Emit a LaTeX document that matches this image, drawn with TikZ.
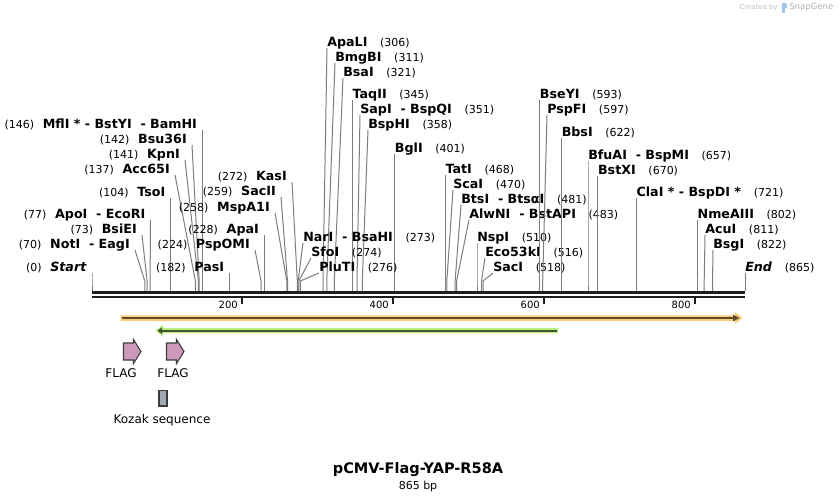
\documentclass[tikz,border=0pt]{standalone}
\usepackage{fontspec}
\setmainfont{DejaVu Sans}
\definecolor{leadc}{RGB}{125,125,125}
\definecolor{orfill}{RGB}{250,202,120}
\definecolor{ordark}{RGB}{95,78,48}
\definecolor{grfill}{RGB}{185,240,125}
\definecolor{grdark}{RGB}{65,85,45}
\definecolor{flagc}{RGB}{205,153,186}
\definecolor{kozc}{RGB}{160,168,180}
\definecolor{outl}{RGB}{60,60,60}
\definecolor{axisc}{RGB}{30,30,30}
\definecolor{sgblue}{RGB}{120,170,215}
\newcommand\numf{\fontsize{8.25}{10}\selectfont\mdseries}
\newcommand\LL[6]{%
  \node[lab,anchor=base east] (#1) at (#2,#3) {{\numf #4}\hspace{6.5pt}#5};
  \coordinate (#1k) at (#6,281);
  \coordinate (#1s) at (#6,291);
  \draw[lead] ([shift={(5,2)}]#1.base east) -- (#1k) -- (#1s);
}
\newcommand\RL[6]{%
  \node[lab,anchor=base west] (#1) at (#2,#3) {#5\hspace{9.5pt}{\numf #4}};
  \coordinate (#1k) at (#6,281);
  \coordinate (#1s) at (#6,291);
  \draw[lead] ([shift={(0,2)}]#1.base west) -- (#1k) -- (#1s);
}
\begin{document}
\begin{tikzpicture}[x=0.75pt,y=-0.75pt,
  lab/.style={font=\fontsize{9.5}{11}\selectfont\bfseries,inner sep=0pt},
  lead/.style={draw=leadc,line width=0.75pt},
  ticklab/.style={font=\fontsize{7.5}{9}\selectfont,inner sep=0pt,anchor=east},
  featlab/.style={font=\fontsize{9}{11}\selectfont,inner sep=0pt}]
\useasboundingbox (0,0) rectangle (838,501);
\fill[white] (0,0) rectangle (838,501);

% watermark
\node[font=\fontsize{5.2}{7}\selectfont,text=gray!50,inner sep=0pt,anchor=east] (cby) at (778,7.5) {Created by};
\fill[sgblue!70] (781.5,2.5) rectangle (784.5,12.5);
\fill[sgblue!70] (784.5,2.5) -- (787,4.5) -- (787,7.5) -- (784.5,9) -- cycle;
\node[font=\fontsize{6.4}{8}\selectfont,text=gray!60,inner sep=0pt,anchor=west] (sg) at (789,7.5) {SnapGene};

% left-side labels (number first)
\LL{mfl}{197.2}{128}{(146)}{MflI * - BstYI\ \ - BamHI}{202.2}
\LL{bsu}{187}{143}{(142)}{Bsu36I}{199.2}
\LL{kpn}{180}{158}{(141)}{KpnI}{198.4}
\LL{acc}{170}{173}{(137)}{Acc65I}{195.4}
\LL{tso}{165.5}{196}{(104)}{TsoI}{170.5}
\LL{apo}{145.5}{218}{(77)}{ApoI\ \ - EcoRI}{150.1}
\LL{bsie}{137}{233}{(73)}{BsiEI}{147.1}
\LL{not}{130}{248}{(70)}{NotI\ \ - EagI}{144.8}
\LL{start}{87}{271}{(0)}{\textit{Start}}{92}
\LL{kas}{287}{180}{(272)}{KasI}{297.3}
\LL{sac2}{276}{195}{(259)}{SacII}{287.5}
\LL{msp}{270}{211}{(258)}{MspA1I}{286.8}
\LL{apai}{259.1}{233}{(228)}{ApaI}{264.1}
\LL{pspo}{250}{248}{(224)}{PspOMI}{261.1}
\LL{pas}{224.4}{271}{(182)}{PasI}{229.4}

% right-side labels (name first)
\RL{apal}{327}{46}{(306)}{ApaLI}{323.0}
\RL{bmg}{335}{61}{(311)}{BmgBI}{326.8}
\RL{bsa}{343}{76}{(321)}{BsaI}{334.3}
\RL{taq}{352.4}{98}{(345)}{TaqII}{352.4}
\RL{sap}{360}{113}{(351)}{SapI\ \ - BspQI}{357.0}
\RL{bsph}{368}{128}{(358)}{BspHI}{362.3}
\RL{bgl}{394.7}{152}{(401)}{BglI}{394.7}
\RL{nar}{303}{241}{(273)}{NarI\ \ - BsaHI}{298.1}
\RL{sfo}{311}{256}{(274)}{SfoI}{298.8}
\RL{plu}{319}{271}{(276)}{PluTI}{300.4}
\RL{tat}{445.3}{173}{(468)}{TatI}{445.3}
\RL{sca}{453}{188}{(470)}{ScaI}{446.8}
\RL{bts}{461}{203}{(481)}{BtsI\ \ - BtsαI}{455.1}
\RL{alw}{469}{218}{(483)}{AlwNI\ \ - BstAPI}{456.6}
\RL{nsp}{477}{241}{(510)}{NspI}{477.0}
\RL{eco}{485}{256}{(516)}{Eco53kI}{481.5}
\RL{saci}{493}{271}{(518)}{SacI}{483.0}
\RL{bsey}{539.7}{98}{(593)}{BseYI}{539.7}
\RL{pspf}{547}{113}{(597)}{PspFI}{542.7}
\RL{bbs}{561.5}{136}{(622)}{BbsI}{561.5}
\RL{bfu}{588}{159}{(657)}{BfuAI\ \ - BspMI}{588.0}
\RL{bstx}{597.8}{174}{(670)}{BstXI}{597.8}
\RL{cla}{636.3}{196}{(721)}{ClaI * - BspDI *}{636.3}
\RL{nme}{697.4}{218}{(802)}{NmeAIII}{697.4}
\RL{acu}{705}{233}{(811)}{AcuI}{704.2}
\RL{bsg}{713}{248}{(822)}{BsgI}{712.5}
\RL{endl}{745}{271}{(865)}{\textit{End}}{745}

% sequence axis
\draw[axisc,line width=2.25pt] (92,292.3) -- (745,292.3);
\draw[axisc,line width=1.9pt] (92,296.8) -- (745,296.8);
\foreach \bp/\xx in {200/241.5,400/392.5,600/543.5,800/694.5}{
  \draw[axisc,line width=1.5pt] (\xx,297) -- (\xx,304);
  \node[ticklab] (t\bp) at (\xx-3.5,304.5) {\bp};
}

% orange feature arrow (forward)
\fill[orfill] (120.5,315.3) -- (735,315.3) -- (735,312) -- (742.5,318) -- (735,324) -- (735,320.8) -- (120.5,320.8) -- cycle;
\draw[ordark,line width=1.6pt] (122,318) -- (734,318);
\fill[ordark] (733,314.6) -- (739.5,318) -- (733,321.4) -- cycle;

% green feature arrow (reverse)
\fill[grfill] (558,328.2) -- (163,328.2) -- (163,325) -- (155.5,330.7) -- (163,336.4) -- (163,333.2) -- (558,333.2) -- cycle;
\draw[grdark,line width=1.6pt] (556.5,330.7) -- (161,330.7);
\fill[grdark] (162,327.3) -- (157.5,330.7) -- (162,334.1) -- cycle;

% FLAG arrows
\filldraw[fill=flagc,draw=outl,line width=0.8pt]
  (123.5,343) -- (133.5,343) -- (133.5,339.5) -- (141,351.5) -- (133.5,363.5) -- (133.5,360) -- (123.5,360) -- cycle;
\filldraw[fill=flagc,draw=outl,line width=0.8pt]
  (166.5,343) -- (176.5,343) -- (176.5,339.5) -- (184,351.5) -- (176.5,363.5) -- (176.5,360) -- (166.5,360) -- cycle;
\node[featlab] (flag1) at (121,373) {FLAG};
\node[featlab] (flag2) at (173,373) {FLAG};

% Kozak
\filldraw[fill=kozc,draw=outl,line width=0.8pt] (159,390.5) rectangle (167,406);
\node[featlab] (koz) at (162,420) {Kozak sequence};

% title
\node[font=\fontsize{10.9}{12}\selectfont\bfseries,inner sep=0pt] (title) at (418,470) {pCMV-Flag-YAP-R58A};
\node[font=\fontsize{8.25}{10}\selectfont,inner sep=0pt] (len) at (418,486) {865 bp};
\end{tikzpicture}
\end{document}
